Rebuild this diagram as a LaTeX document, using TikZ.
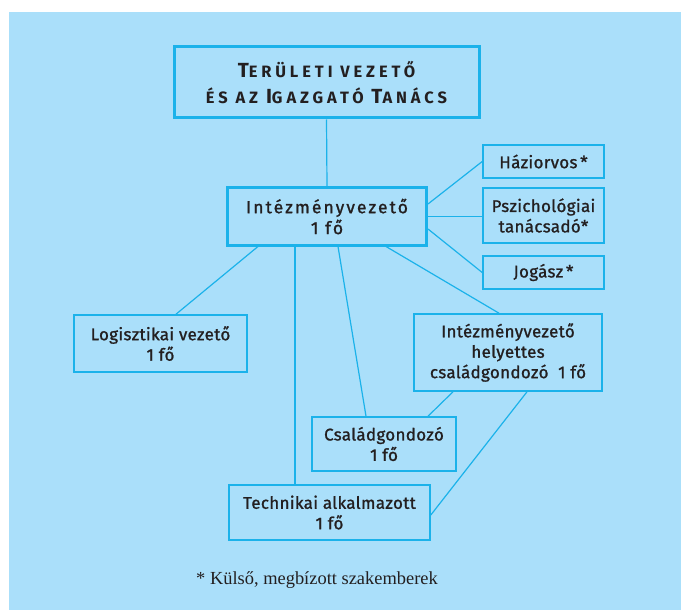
\documentclass[tikz,border=0pt]{standalone}
\usepackage{fontspec}
\setmainfont{Liberation Serif}
\newfontfamily\boxfont{Fira Sans}[LetterSpace=2, FakeBold=1.2]
\newfontfamily\mainboxfont{Fira Sans}[LetterSpace=12, FakeBold=1.2]
\newfontfamily\titlefont{Fira Sans}[LetterSpace=24]
\definecolor{bgblue}{RGB}{170,223,250}
\definecolor{cy}{RGB}{27,178,234}
\definecolor{ink}{RGB}{35,31,32}
\newcommand\TitleCap[1]{{\fontsize{20.5}{27}\selectfont #1}}
\tikzset{
  box/.style={draw=cy, line width=1.6bp, text=ink, align=center, inner sep=0pt,
    font=\boxfont\fontsize{17}{20.5}\selectfont},
  bigbox/.style={box, line width=3bp},
  conn/.style={draw=cy, line width=1.2bp},
}
\begin{document}
\begin{tikzpicture}[x=1bp,y=-1bp]
\useasboundingbox (0,0) rectangle (681,610);
\fill[bgblue] (9,12) rectangle (681,610);

\node[bigbox, minimum width=305bp, minimum height=71bp,
  font=\titlefont\bfseries\fontsize{16.5}{27}\selectfont] (top) at (326.5,82.5)
  {\TitleCap{T}ERÜLETI VEZETŐ\\ÉS AZ \TitleCap{I}GAZGATÓ \TitleCap{T}ANÁCS};

\node[bigbox, minimum width=199bp, minimum height=57bp,
  font=\mainboxfont\fontsize{17.5}{21}\selectfont] (main) at (327,216.5)
  {Intézményvezető\\1 fő};

\node[box, minimum width=121bp, minimum height=33bp] (hazi) at (543.5,161.5) {Háziorvos\,*};
\node[box, minimum width=121bp, minimum height=55bp] (pszi) at (543.5,215.5) {Pszichológiai\\tanácsadó*};
\node[box, minimum width=121bp, minimum height=33bp] (jog) at (543.5,272.5) {Jogász\,*};

\node[box, minimum width=173bp, minimum height=57bp] (logi) at (160.5,343.5) {Logisztikai vezető\\1 fő};
\node[box, minimum width=188bp, minimum height=77bp] (hely) at (508,352.5) {Intézményvezető\\helyettes\\családgondozó\ \ 1 fő};
\node[box, minimum width=144bp, minimum height=54bp] (csal) at (384,444) {Családgondozó\\1 fő};
\node[box, minimum width=201bp, minimum height=55bp] (tech) at (329.5,512.5) {Technikai alkalmazott\\1 fő};

\node[text=ink, font=\fontsize{18.5}{22}\selectfont] (note) at (317,580) {* Külső, megbízott szakemberek};

\draw[conn] (top.south) -- (main.north);
\draw[conn] ([yshift=12.5bp]main.east) -- (hazi.west);
\draw[conn] (main.east) -- (main.east -| pszi.west);
\draw[conn] ([yshift=-12.5bp]main.east) -- (jog.west);
\draw[conn] ([xshift=-69bp]main.south) -- ([xshift=15.5bp]logi.north);
\draw[conn] ([xshift=-32bp]main.south) -- ([xshift=-32bp]main.south |- tech.north);
\draw[conn] ([xshift=11bp]main.south) -- ([xshift=-18bp]csal.north);
\draw[conn] ([xshift=59bp]main.south) -- ([xshift=-9bp]hely.north);
\draw[conn] ([xshift=-55bp]hely.south) -- ([xshift=44bp]csal.north);
\draw[conn] ([xshift=19bp]hely.south) -- ([yshift=-2.5bp]tech.east);
\end{tikzpicture}
\end{document}
